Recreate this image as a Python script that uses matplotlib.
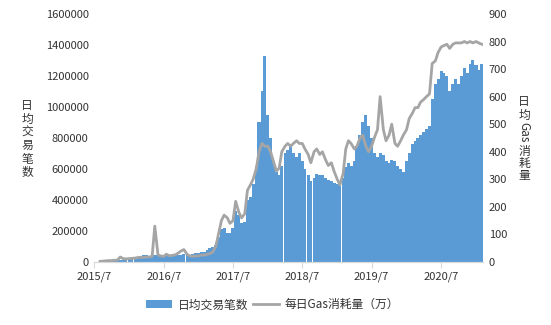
import matplotlib
matplotlib.use('Agg')
import matplotlib.pyplot as plt
import matplotlib.ticker as mticker
import pandas as pd

plt.rcParams['font.family'] = ['Noto Sans CJK SC', 'DejaVu Sans']

# half-monthly readings, 2015-08-01 .. 2021-02-01
dates = pd.date_range('2015-08-01', '2021-02-01', freq='SMS')

# daily transactions (thousands)
tx_2015 = [3, 5, 8, 8, 8, 9, 10, 12, 14, 16]
tx_2016 = [18, 22, 28, 35, 40, 45, 42, 40, 45, 45, 45, 48,
           42, 40, 40, 42, 45, 45, 48, 50, 50, 48, 50, 55]
tx_2017 = [60, 62, 65, 75, 90, 95, 110, 160, 210, 220, 190, 185,
           220, 330, 300, 250, 260, 400, 420, 500, 620, 900, 1100, 1330]
tx_2018 = [950, 800, 650, 580, 560, 620, 700, 720, 760, 700, 680, 700,
           650, 600, 560, 520, 540, 570, 560, 560, 540, 530, 520, 510]
tx_2019 = [500, 490, 540, 610, 640, 620, 650, 750, 820, 900, 950, 880,
           800, 700, 680, 700, 690, 650, 640, 660, 650, 620, 600, 580]
tx_2020 = [650, 700, 760, 780, 800, 820, 840, 860, 880, 1050, 1150, 1180,
           1230, 1220, 1200, 1100, 1150, 1180, 1150, 1200, 1250, 1220, 1280, 1300]
tx_2021 = [1270, 1240, 1280]

# daily gas used (万)
gas_2015 = [2, 3, 4, 5, 5, 6, 7, 18, 12, 11]
gas_2016 = [12, 13, 14, 16, 17, 16, 18, 18, 20, 130, 25, 22,
            20, 28, 22, 24, 26, 32, 40, 45, 28, 22, 20, 22]
gas_2017 = [22, 25, 25, 28, 30, 35, 55, 100, 150, 170, 160, 140,
            150, 220, 180, 160, 175, 260, 280, 300, 340, 400, 430, 420]
gas_2018 = [420, 400, 360, 330, 340, 400, 420, 430, 420, 430, 440, 430,
            430, 410, 390, 360, 400, 410, 390, 400, 370, 350, 360, 330]
gas_2019 = [300, 280, 320, 410, 440, 430, 410, 420, 450, 460, 420, 400,
            420, 450, 480, 600, 480, 440, 460, 500, 430, 420, 440, 460]
gas_2020 = [480, 520, 540, 560, 560, 580, 590, 600, 610, 720, 730, 760,
            780, 785, 790, 775, 790, 795, 795, 795, 800, 795, 800, 795]
gas_2021 = [800, 795, 790]

tx = [v * 1000 for v in tx_2015 + tx_2016 + tx_2017 + tx_2018 + tx_2019 + tx_2020 + tx_2021]
gas = gas_2015 + gas_2016 + gas_2017 + gas_2018 + gas_2019 + gas_2020 + gas_2021

tick_dates = pd.to_datetime(['2015-07-01', '2016-07-01', '2017-07-01',
                             '2018-07-01', '2019-07-01', '2020-07-01'])
tick_labels = ['2015/7', '2016/7', '2017/7', '2018/7', '2019/7', '2020/7']

blue = '#5B9BD5'
grey = '#A5A5A5'
txt = '#333333'

fig = plt.figure(figsize=(5.51, 3.25), dpi=100)
ax = fig.add_axes([0.171, 0.194, 0.706, 0.763])
ax2 = ax.twinx()

ax.bar(dates, tx, width=16, color=blue, linewidth=0, label='日均交易笔数')
ax2.plot(dates, gas, color=grey, linewidth=2.0, label='每日Gas消耗量（万）')

ax.set_xlim(pd.Timestamp('2015-07-01'), pd.Timestamp('2021-02-08'))
ax.set_ylim(0, 1600000)
ax2.set_ylim(0, 900)
ax.yaxis.set_major_locator(mticker.MultipleLocator(200000))
ax.yaxis.set_major_formatter(mticker.FuncFormatter(lambda v, p: '%d' % v))
ax2.yaxis.set_major_locator(mticker.MultipleLocator(100))

ax.set_xticks(tick_dates)
ax.set_xticklabels(tick_labels)

for a in (ax, ax2):
    for s in ('top', 'left', 'right'):
        a.spines[s].set_visible(False)
    a.spines['bottom'].set_color('#D9D9D9')
    a.tick_params(axis='y', length=0, labelsize=8, labelcolor=txt, pad=4)
ax.tick_params(axis='x', length=4, color='#D9D9D9', labelsize=8, labelcolor=txt, pad=3)

# stacked vertical axis titles
left_chars = ['日', '均', '交', '易', '笔', '数']
for i, ch in enumerate(left_chars):
    fig.text(27 / 551, 1 - (106 + i * 13.3) / 325, ch, ha='center', va='center',
             fontsize=8.5, color=txt)

right_parts = [('日', 102, 0), ('均', 115, 0), ('Gas', 132.5, -90),
               ('消', 151.5, 0), ('耗', 163.5, 0), ('量', 175.5, 0)]
for s, y, rot in right_parts:
    fig.text(524 / 551, 1 - y / 325, s, ha='center', va='center',
             fontsize=8.5, color=txt, rotation=rot)

h1, l1 = ax.get_legend_handles_labels()
h2, l2 = ax2.get_legend_handles_labels()
fig.legend(h1 + h2, l1 + l2, loc='center', bbox_to_anchor=(0.495, 0.062), ncol=2,
           frameon=False, fontsize=8.5, handlelength=2.2, handleheight=0.6,
           columnspacing=0.4, handletextpad=0.5, labelcolor=txt)

fig.savefig('out.png', dpi=100)
